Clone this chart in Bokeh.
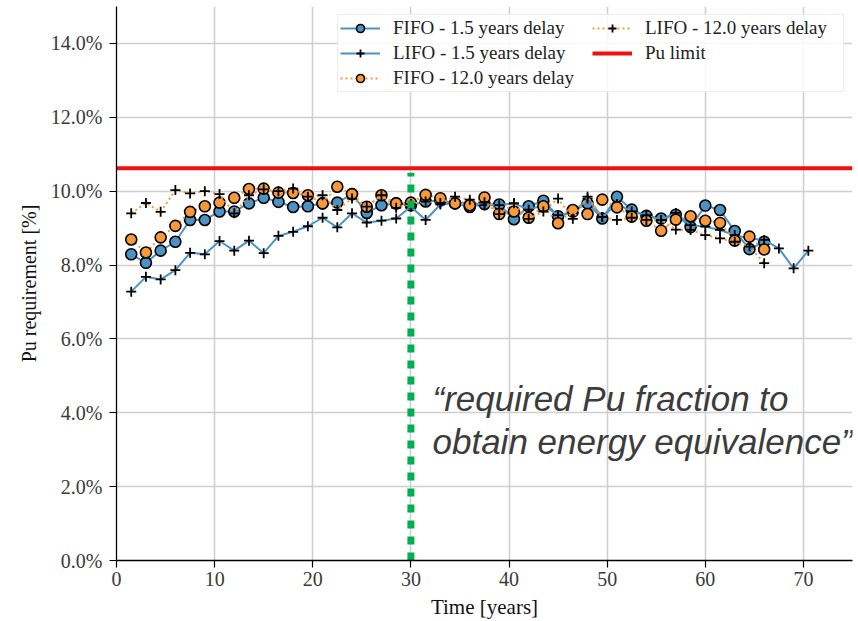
from bokeh.plotting import figure
from bokeh.models import Legend, LegendItem, Label, PrintfTickFormatter, Range1d, FixedTicker
from bokeh.embed import file_html
from bokeh.resources import INLINE

# ---------------- data ----------------
time_a = [1.5, 3.0, 4.5, 6.0, 7.5, 9.0, 10.5, 12.0, 13.5, 15.0, 16.5, 18.0, 19.5, 21.0, 22.5,
          24.0, 25.5, 27.0, 28.5, 30.0, 31.5, 33.0, 34.5, 36.0, 37.5, 39.0, 40.5, 42.0, 43.5,
          45.0, 46.5, 48.0, 49.5, 51.0, 52.5, 54.0, 55.5, 57.0, 58.5, 60.0, 61.5, 63.0, 64.5, 66.0]
time_b = time_a + [67.5, 69.0, 70.5]

fifo_15 = [8.29, 8.06, 8.39, 8.63, 9.22, 9.22, 9.45, 9.45, 9.67, 9.82, 9.71, 9.57, 9.59, 9.67,
           9.69, 9.92, 9.41, 9.62, 9.67, 9.62, 9.72, 9.75, 9.67, 9.57, 9.65, 9.64, 9.24, 9.59,
           9.74, 9.32, 9.45, 9.67, 9.26, 9.85, 9.50, 9.33, 9.26, 9.36, 9.03, 9.61, 9.49, 8.92,
           8.43, 8.63]
lifo_15 = [7.28, 7.68, 7.61, 7.86, 8.33, 8.29, 8.65, 8.39, 8.66, 8.32, 8.79, 8.90, 9.05, 9.28,
           9.02, 9.40, 9.15, 9.20, 9.26, 9.58, 9.22, 9.64, 9.67, 9.70, 9.62, 9.62, 9.67, 9.50,
           9.62, 9.35, 9.40, 9.80, 9.30, 9.65, 9.45, 9.35, 9.22, 9.41, 9.08, 9.04, 8.95, 8.81,
           8.72, 8.68, 8.45, 7.91, 8.39]
fifo_12 = [8.69, 8.34, 8.75, 9.06, 9.44, 9.59, 9.69, 9.82, 10.06, 10.07, 9.96, 9.95, 9.89, 9.67,
           10.12, 9.92, 9.58, 9.89, 9.67, 9.69, 9.90, 9.81, 9.67, 9.62, 9.83, 9.38, 9.45, 9.28,
           9.59, 9.13, 9.49, 9.38, 9.77, 9.56, 9.31, 9.20, 8.93, 9.23, 9.32, 9.20, 9.14, 8.66,
           8.77, 8.42]
lifo_12 = [9.40, 9.68, 9.44, 10.03, 9.94, 10.00, 9.92, 9.40, 9.89, 10.05, 10.00, 10.07, 9.85, 9.89,
           9.49, 9.80, 9.58, 9.89, 9.55, 9.65, 9.72, 9.68, 9.85, 9.77, 9.70, 9.38, 9.67, 9.25,
           9.45, 9.80, 9.25, 9.85, 9.30, 9.22, 9.28, 9.22, 9.22, 8.96, 8.95, 8.81, 8.72, 8.63,
           8.50, 8.05]

pu_limit = 10.62
marker_time = 30
marker_top = 10.5
x_min, x_max = 0, 75
y_min, y_max = 0, 15
x_ticks = [0, 10, 20, 30, 40, 50, 60, 70]
y_ticks = [0, 2, 4, 6, 8, 10, 12, 14]
series_labels = ["FIFO - 1.5 years delay", "LIFO - 1.5 years delay",
                 "FIFO - 12.0 years delay", "LIFO - 12.0 years delay", "Pu limit"]
note_lines = ["\u201crequired Pu fraction to", "obtain energy equivalence\u201d"]

# ---------------- style ----------------
BLUE = "#4c92c3"
ORANGE = "#f7993a"
SERIF = "Liberation Serif"

p = figure(width=858, height=621, output_backend="svg", toolbar_location=None,
           x_range=Range1d(x_min, x_max), y_range=Range1d(y_min, y_max),
           min_border_left=116, min_border_right=6, min_border_top=6, min_border_bottom=60)
p.outline_line_color = None
p.background_fill_color = "white"
p.border_fill_color = "white"

p.xaxis.ticker = FixedTicker(ticks=x_ticks)
p.yaxis.ticker = FixedTicker(ticks=y_ticks)
p.yaxis.formatter = PrintfTickFormatter(format="%.1f%%")
for ax in (p.xaxis[0], p.yaxis[0]):
    ax.axis_line_color = "black"
    ax.axis_line_width = 1.3
    ax.major_tick_line_color = "black"
    ax.major_tick_line_width = 1.2
    ax.major_tick_out = 7
    ax.major_tick_in = 0
    ax.minor_tick_line_color = None
    ax.major_label_text_font = SERIF
    ax.major_label_text_font_size = "20px"
    ax.major_label_text_color = "#3a3a3a"
    ax.axis_label_text_font = SERIF
    ax.axis_label_text_font_style = "normal"
    ax.axis_label_text_color = "#111111"
p.xaxis.axis_label = "Time [years]"
p.yaxis.axis_label = "Pu requirement [%]"
p.xaxis.axis_label_text_font_size = "21px"
p.yaxis.axis_label_text_font_size = "20px"
p.xaxis.major_label_standoff = 4
p.yaxis.major_label_standoff = 7
p.xaxis.axis_label_standoff = 6
p.yaxis.axis_label_standoff = 8

p.xgrid.grid_line_color = "#cfcfcf"
p.ygrid.grid_line_color = "#cfcfcf"
p.xgrid.grid_line_width = 1.6
p.ygrid.grid_line_width = 1.6

# ---------------- series ----------------
l1 = p.line(time_a, fifo_15, line_color=BLUE, line_width=2)
m1 = p.scatter(time_a, fifo_15, marker="circle", size=11, fill_color=BLUE,
               line_color="black", line_width=1.6)
l2 = p.line(time_b, lifo_15, line_color=BLUE, line_width=2)
m2 = p.scatter(time_b, lifo_15, marker="cross", size=10, line_color="black", line_width=1.8)
l3 = p.line(time_a, fifo_12, line_color=ORANGE, line_width=2, line_dash="2 3")
m3 = p.scatter(time_a, fifo_12, marker="circle", size=11, fill_color=ORANGE,
               line_color="black", line_width=1.6)
l4 = p.line(time_a, lifo_12, line_color=ORANGE, line_width=2, line_dash="2 3")
m4 = p.scatter(time_a, lifo_12, marker="cross", size=10, line_color="black", line_width=1.8)
l5 = p.line([x_min, x_max], [pu_limit, pu_limit], line_color="#ee1111", line_width=4)

p.line([marker_time, marker_time], [y_min, marker_top], line_color="#00b050",
       line_width=7, line_dash="8 8")

legend = Legend(items=[
    LegendItem(label=series_labels[0], renderers=[l1, m1]),
    LegendItem(label=series_labels[1], renderers=[l2, m2]),
    LegendItem(label=series_labels[2], renderers=[l3, m3]),
    LegendItem(label=series_labels[3], renderers=[l4, m4]),
    LegendItem(label=series_labels[4], renderers=[l5]),
], ncols=2, location="top_right")
legend.label_text_font = SERIF
legend.label_text_font_size = "19px"
legend.label_text_color = "#222222"
legend.border_line_color = "#d9d9d9"
legend.background_fill_alpha = 0.85
legend.glyph_width = 40
legend.glyph_height = 20
legend.label_height = 20
legend.label_width = 196
legend.label_standoff = 13
legend.spacing = 3
legend.padding = 2
legend.margin = 8
p.add_layout(legend)

for txt, yy in zip(note_lines, [4.38, 3.22]):
    p.add_layout(Label(x=32.2, y=yy, text=txt, text_font="Liberation Sans",
                       text_font_style="italic", text_font_size="35px",
                       text_color="#3c3c3c", text_baseline="alphabetic"))

open("out.html", "w").write(file_html(p, INLINE))
